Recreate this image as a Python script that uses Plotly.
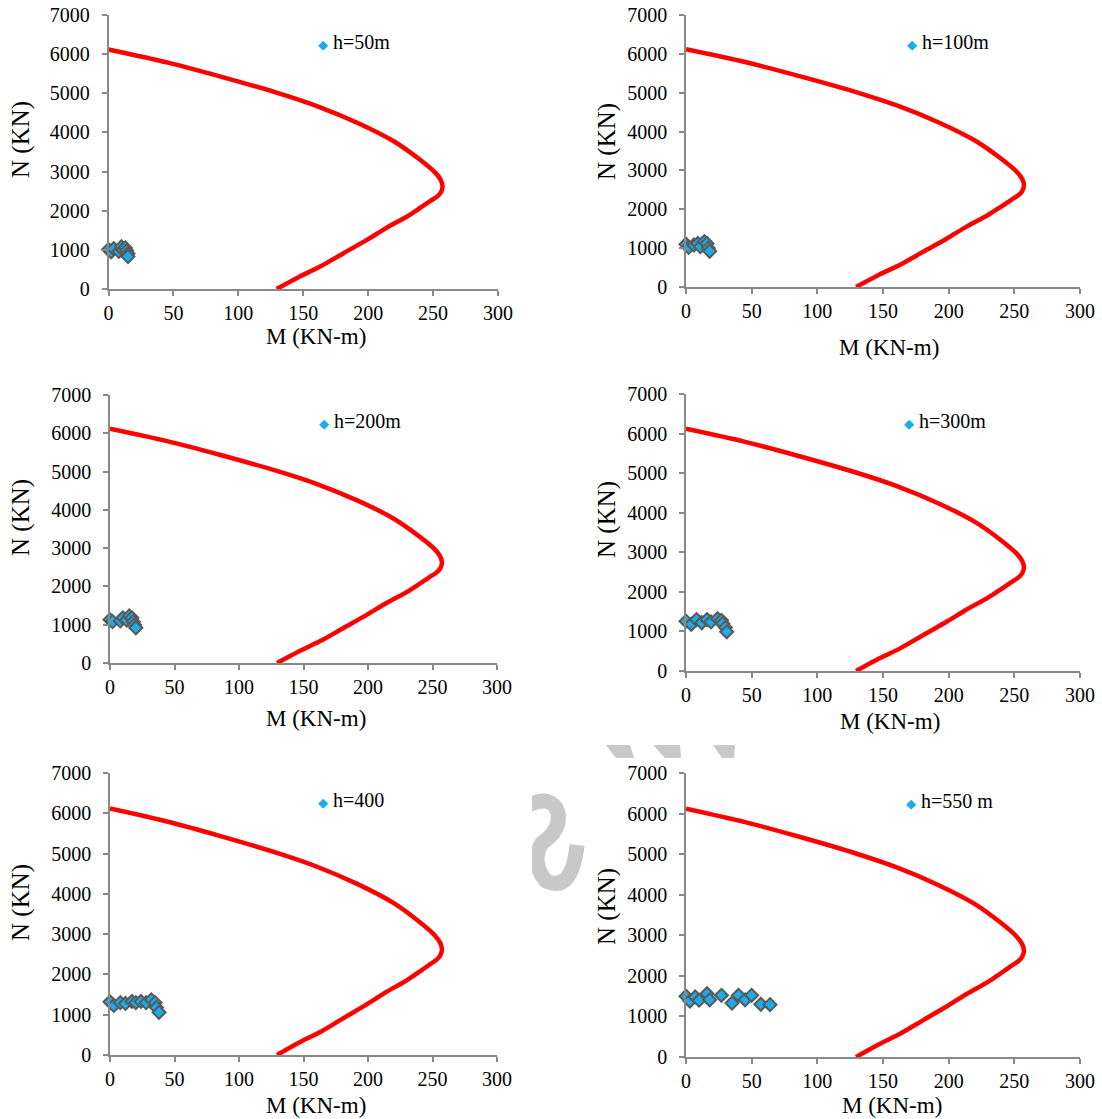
import plotly.graph_objects as go

W, H = 1102, 1119

# Interaction diagram of the column section (same capacity curve in every panel)
capacity_M = [0, 45, 85, 130, 161, 192, 220, 240, 252, 256, 257.3, 256, 253, 248, 240, 230, 214, 199, 181, 163, 147, 129.5]
capacity_N = [6120, 5790, 5440, 5010, 4667, 4241, 3769, 3300, 2960, 2780, 2620, 2470, 2360, 2250, 2070, 1853, 1560, 1256, 915, 572, 315, 0]

# Load demands (M, N) for each height
labels = ["h=50m", "h=100m", "h=200m", "h=300m", "h=400", "h=550 m"]

M_50 = [0, 2, 4, 8, 10, 11, 13, 14, 15, 15]
N_50 = [1010, 950, 1030, 960, 1080, 1000, 1050, 980, 900, 830]

M_100 = [0, 2, 6, 9, 11, 14, 16, 17, 18]
N_100 = [1100, 1020, 1080, 1120, 1040, 1170, 1120, 1000, 920]

M_200 = [0, 2, 8, 10, 13, 15, 17, 18, 19, 20]
N_200 = [1130, 1080, 1100, 1180, 1120, 1230, 1180, 1080, 1000, 920]

M_300 = [0, 4, 8, 12, 16, 19, 24, 27, 28, 30, 31]
N_300 = [1260, 1180, 1300, 1220, 1300, 1240, 1320, 1280, 1200, 1100, 990]

M_400 = [0, 3, 8, 12, 17, 20, 24, 28, 32, 35, 36, 38]
N_400 = [1320, 1230, 1300, 1280, 1330, 1300, 1330, 1300, 1370, 1300, 1180, 1060]

M_550 = [0, 3, 7, 10, 16, 18, 27, 35, 40, 45, 50, 57, 64]
N_550 = [1500, 1380, 1480, 1400, 1560, 1410, 1520, 1330, 1520, 1410, 1520, 1300, 1290]

demand_M = [M_50, M_100, M_200, M_300, M_400, M_550]
demand_N = [N_50, N_100, N_200, N_300, N_400, N_550]

x_ticks = [0, 50, 100, 150, 200, 250, 300]
y_ticks = [0, 1000, 2000, 3000, 4000, 5000, 6000, 7000]
x_title = "M (KN-m)"
y_title = "N (KN)"

# Plot areas in pixels: (left, right, top, bottom)
boxes = [(108.5, 498, 15, 289), (686, 1080, 15, 287),
         (110, 497, 395, 663), (686, 1080, 394, 671),
         (110, 497, 773, 1055), (686, 1080, 773, 1057)]
# legend anchor (left x, centre y) in pixels
legend_pos = [(316, 42), (905, 42), (317, 421), (902, 421), (316, 800), (904, 801)]
# axis-title centres in pixels
xtitle_pos = [(316, 336), (889, 347), (316, 718), (890, 722), (316, 1105), (892, 1105)]
ytitle_pos = [(21, 140), (607, 142), (21, 518), (607, 520), (21, 903), (607, 907)]

FONT = "Liberation Serif, Times New Roman, serif"
RED = "#FF0000"
BLUE = "#19ADEB"
EDGE = "#595959"
AXIS = "#898989"


def px(x):
    return x / W


def py(y):
    return 1 - y / H


fig = go.Figure()
layout = dict(
    width=W, height=H,
    margin=dict(l=0, r=0, t=0, b=0),
    paper_bgcolor="white", plot_bgcolor="white",
    showlegend=False,
    font=dict(family=FONT, size=20, color="black"),
    annotations=[], shapes=[],
)

for i in range(6):
    k = "" if i == 0 else str(i + 1)
    xa, ya = "x" + k, "y" + k
    l, r, t, b = boxes[i]
    fig.add_trace(go.Scatter(
        x=capacity_M, y=capacity_N, mode="lines",
        line=dict(color=RED, width=4.5, shape="spline", smoothing=0.8),
        xaxis=xa, yaxis=ya, hoverinfo="skip", cliponaxis=False,
    ))
    fig.add_trace(go.Scatter(
        x=demand_M[i], y=demand_N[i], mode="markers", name=labels[i],
        marker=dict(symbol="diamond", size=10, color=BLUE,
                    line=dict(color=EDGE, width=2)),
        xaxis=xa, yaxis=ya, cliponaxis=False,
    ))
    common = dict(showgrid=False, zeroline=False, showline=True,
                  linecolor=AXIS, linewidth=1.5, ticks="outside",
                  tickcolor=AXIS, ticklen=5, tickwidth=1.5,
                  tickfont=dict(family=FONT, size=20, color="black"),
                  automargin=False)
    layout["xaxis" + k] = dict(
        common, domain=[px(l), px(r)], anchor=ya, range=[0, 300],
        tickvals=x_ticks, ticklabelstandoff=0,
    )
    layout["yaxis" + k] = dict(
        common, domain=[py(b), py(t)], anchor=xa, range=[0, 7000],
        tickvals=y_ticks, ticklabelstandoff=8,
    )
    tx, ty = xtitle_pos[i]
    layout["annotations"].append(dict(
        xref="paper", yref="paper", x=px(tx), y=py(ty),
        xanchor="center", yanchor="middle", showarrow=False,
        text=x_title, font=dict(family=FONT, size=23, color="black"),
    ))
    tx, ty = ytitle_pos[i]
    layout["annotations"].append(dict(
        xref="paper", yref="paper", x=px(tx), y=py(ty),
        xanchor="center", yanchor="middle", showarrow=False, textangle=-90,
        text=y_title, font=dict(family=FONT, size=25, color="black"),
    ))
    lx, ly = legend_pos[i]
    layout["annotations"].append(dict(
        xref="paper", yref="paper", x=px(lx), y=py(ly),
        xanchor="left", yanchor="middle", showarrow=False,
        text=f"<span style='color:{BLUE};font-size:13px'>◆</span> {labels[i]}",
        font=dict(family=FONT, size=20, color="black"),
    ))


# faint watermark fragments between the panels
def path(points, close=True):
    s = "M " + " L ".join(f"{px(x):.5f},{py(y):.5f}" for x, y in points)
    return s + (" Z" if close else "")


GREY = "#C8C8C8"
for quad in ([(606, 745), (630, 745), (634, 758), (616, 758)],
             [(653, 745), (680, 745), (681, 758), (665, 758)],
             [(713, 745), (735, 745), (734, 758), (722, 758)]):
    layout["shapes"].append(dict(type="path", xref="paper", yref="paper",
                                 path=path(quad), fillcolor=GREY,
                                 line=dict(width=0), layer="above"))

curl = ("M {a} Q {b} {c} Q {d} {e} Q {f} {g} Q {h} {i}").format(
    a=f"{px(528):.5f},{py(805):.5f}",
    b=f"{px(552):.5f},{py(794):.5f}", c=f"{px(558):.5f},{py(813):.5f}",
    d=f"{px(561):.5f},{py(830):.5f}", e=f"{px(542):.5f},{py(843):.5f}",
    f=f"{px(530):.5f},{py(862):.5f}", g=f"{px(546):.5f},{py(881):.5f}",
    h=f"{px(572):.5f},{py(893):.5f}", i=f"{px(577):.5f},{py(845):.5f}",
)
layout["shapes"].append(dict(type="path", xref="paper", yref="paper", path=curl,
                             line=dict(color=GREY, width=15), layer="above"))
layout["shapes"].append(dict(type="rect", xref="paper", yref="paper",
                             x0=px(510), x1=px(532), y0=py(780), y1=py(905),
                             fillcolor="white", line=dict(width=0), layer="above"))

fig.update_layout(**layout)
fig.write_html("out.html")
